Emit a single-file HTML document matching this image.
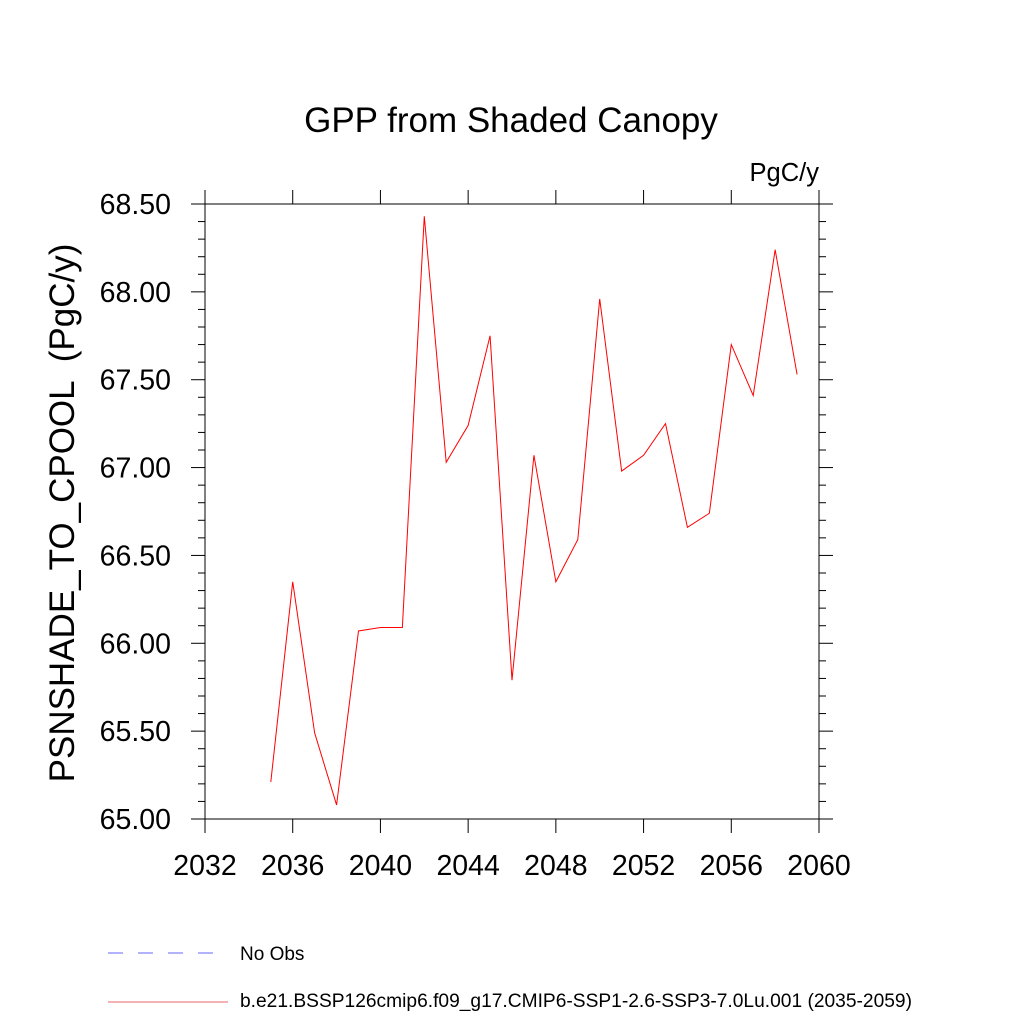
<!DOCTYPE html>
<html><head><meta charset="utf-8"><style>
body{margin:0;background:#fff;}
svg text{font-family:"Liberation Sans",sans-serif;fill:#000;}
</style></head><body>
<svg id="chart" width="1024" height="1024" viewBox="0 0 1024 1024">
<rect width="1024" height="1024" fill="#fff"/>
<text x="511" y="132" font-size="35" text-anchor="middle">GPP from Shaded Canopy</text>
<text x="819" y="181" font-size="25.5" text-anchor="end">PgC/y</text>
<text transform="translate(74,513) rotate(-90)" font-size="35" text-anchor="middle" xml:space="preserve">PSNSHADE_TO_CPOOL  (PgC/y)</text>
<g id="axes"></g>
<polyline id="series" fill="none" stroke="#ff0000" stroke-width="1"/>
<line x1="108" y1="953" x2="216" y2="953" stroke="#6666ff" stroke-width="1" stroke-dasharray="15,15"/>
<text x="240" y="960" font-size="19">No Obs</text>
<line x1="108" y1="1002" x2="228" y2="1002" stroke="#ee6666" stroke-width="1"/>
<text x="240" y="1007" font-size="19.2">b.e21.BSSP126cmip6.f09_g17.CMIP6-SSP1-2.6-SSP3-7.0Lu.001 (2035-2059)</text>
</svg>
<script>
const years=[2035,2036,2037,2038,2039,2040,2041,2042,2043,2044,2045,2046,2047,2048,2049,2050,2051,2052,2053,2054,2055,2056,2057,2058,2059];
const values=[65.21,66.35,65.49,65.08,66.07,66.09,66.09,68.43,67.03,67.24,67.75,65.79,67.07,66.35,66.59,67.96,66.98,67.07,67.25,66.66,66.74,67.70,67.41,68.24,67.53];
const xTicks=[2032,2036,2040,2044,2048,2052,2056,2060];
const yTicks=[65.0,65.5,66.0,66.5,67.0,67.5,68.0,68.5];
const L=205,R=819,T=204,B=819;
const x=v=>L+(v-2032)/(2060-2032)*(R-L);
const y=v=>B-(v-65)/(68.5-65)*(B-T);
const ns="http://www.w3.org/2000/svg";
const g=document.getElementById('axes');
function ln(x1,y1,x2,y2,name){const e=document.createElementNS(ns,'line');
e.setAttribute('x1',x1);e.setAttribute('y1',y1);e.setAttribute('x2',x2);e.setAttribute('y2',y2);
e.setAttribute('stroke','#000');e.setAttribute('stroke-width','1');


g.appendChild(e);}
function tx(xx,yy,s,anchor,name){const e=document.createElementNS(ns,'text');
e.setAttribute('x',xx);e.setAttribute('y',yy);e.setAttribute('font-size','28.5');e.setAttribute('text-anchor',anchor);e.textContent=s;


g.appendChild(e);}
ln(L,T,R,T,'plot-frame-top');ln(L,B,R,B,'plot-frame-bottom');ln(L,T,L,B,'plot-frame-left');ln(R,T,R,B,'plot-frame-right');
xTicks.forEach(v=>{const p=x(v);ln(p,B,p,B+14,'x-tick');ln(p,T,p,T-14,'x-tick-top');tx(p,875,String(v),'middle','x-tick-label');});
for(let k=0;k<=35;k++){const v=65+k*0.1;const p=y(v);const major=k%5===0;const len=major?14:7;
ln(L-len,p,L,p,'y-tick');ln(R,p,R+len,p,'y-tick-right');}
yTicks.forEach(v=>tx(L-34,y(v)+10,v.toFixed(2),'end','y-tick-label'));
document.getElementById('series').setAttribute('points',years.map((yr,i)=>x(yr)+','+y(values[i])).join(' '));
</script>
</body></html>
